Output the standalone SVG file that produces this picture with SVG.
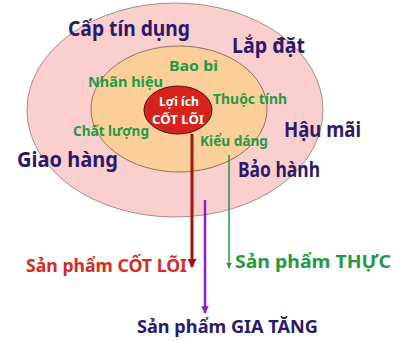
<svg xmlns="http://www.w3.org/2000/svg" width="403" height="341" viewBox="0 0 403 341">
  <style>
    text { font-family: "Noto Sans", "Liberation Sans", sans-serif; }
    .outer { font-size: 21px; font-weight: bold; fill: #2b1a6b; }
    .mid { font-size: 14.5px; font-weight: bold; fill: #1f9a45; }
    .core { font-size: 13px; font-weight: bold; fill: #ffffff; }
    .lbl { font-size: 17px; font-weight: bold; }
  </style>
  <defs>
    <marker id="arrRed" viewBox="0 0 10 10" refX="9" refY="5" markerWidth="3" markerHeight="3" orient="auto" markerUnits="strokeWidth">
      <path d="M0,0 L10,5 L0,10 z" fill="#a0140f"/>
    </marker>
    <marker id="arrGreen" viewBox="0 0 10 10" refX="9" refY="5" markerWidth="4" markerHeight="4" orient="auto" markerUnits="strokeWidth">
      <path d="M0,0 L10,5 L0,10 z" fill="#1f9a45"/>
    </marker>
    <marker id="arrPurple" viewBox="0 0 10 10" refX="9" refY="5" markerWidth="3" markerHeight="3" orient="auto" markerUnits="strokeWidth">
      <path d="M0,0 L10,5 L0,10 z" fill="#8a1fd0"/>
    </marker>
  </defs>

  <!-- augmented product ring -->
  <g id="augmented">
    <ellipse cx="175" cy="110" rx="148" ry="107" fill="#fccfcf" stroke="#8a7676" stroke-width="0.8"/>
    <text class="outer" x="68" y="36" textLength="122" lengthAdjust="spacingAndGlyphs">Cấp tín dụng</text>
    <text class="outer" x="232" y="53" textLength="73" lengthAdjust="spacingAndGlyphs">Lắp đặt</text>
    <text class="outer" x="284" y="137" textLength="77" lengthAdjust="spacingAndGlyphs">Hậu mãi</text>
    <text class="outer" x="17" y="167" textLength="101" lengthAdjust="spacingAndGlyphs">Giao hàng</text>
    <text class="outer" x="238" y="177" textLength="82" lengthAdjust="spacingAndGlyphs">Bảo hành</text>
  </g>

  <!-- actual product ring -->
  <g id="actual">
    <ellipse cx="179" cy="109" rx="88" ry="63" fill="#fccf9a" stroke="#6e5a4a" stroke-width="0.8"/>
    <text class="mid" x="169" y="71" textLength="49" lengthAdjust="spacingAndGlyphs">Bao bì</text>
    <text class="mid" x="88" y="87" textLength="75" lengthAdjust="spacingAndGlyphs">Nhãn hiệu</text>
    <text class="mid" x="213" y="104" textLength="74" lengthAdjust="spacingAndGlyphs">Thuộc tính</text>
    <text class="mid" x="73" y="136" textLength="76" lengthAdjust="spacingAndGlyphs">Chất lượng</text>
    <text class="mid" x="200" y="146" textLength="68" lengthAdjust="spacingAndGlyphs">Kiểu dáng</text>
  </g>

  <!-- core benefit -->
  <g id="core">
    <ellipse cx="178" cy="110" rx="34" ry="24" fill="#d6241c" stroke="#4a1410" stroke-width="1"/>
    <text class="core" x="179" y="106" text-anchor="middle" textLength="40" lengthAdjust="spacingAndGlyphs">Lợi ích</text>
    <text class="core" x="178" y="124" text-anchor="middle" textLength="52" lengthAdjust="spacingAndGlyphs">CỐT LÕI</text>
  </g>

  <!-- level pointers -->
  <g id="connectors">
    <line x1="192" y1="134" x2="192" y2="267" stroke="#a0140f" stroke-width="3" marker-end="url(#arrRed)"/>
    <line x1="229" y1="155" x2="229" y2="268" stroke="#1f9a45" stroke-width="1.5" marker-end="url(#arrGreen)"/>
    <line x1="205" y1="200" x2="205" y2="313" stroke="#8a1fd0" stroke-width="2.5" marker-end="url(#arrPurple)"/>
  </g>

  <g id="labels">
    <text class="lbl" x="26" y="272" fill="#d62a22" textLength="161" lengthAdjust="spacingAndGlyphs">Sản phẩm CỐT LÕI</text>
    <text class="lbl" x="235" y="268" fill="#1f9a45" textLength="156" lengthAdjust="spacingAndGlyphs">Sản phẩm THỰC</text>
    <text class="lbl" x="137" y="333" fill="#2b1a6b" textLength="181" lengthAdjust="spacingAndGlyphs">Sản phẩm GIA TĂNG</text>
  </g>
</svg>
